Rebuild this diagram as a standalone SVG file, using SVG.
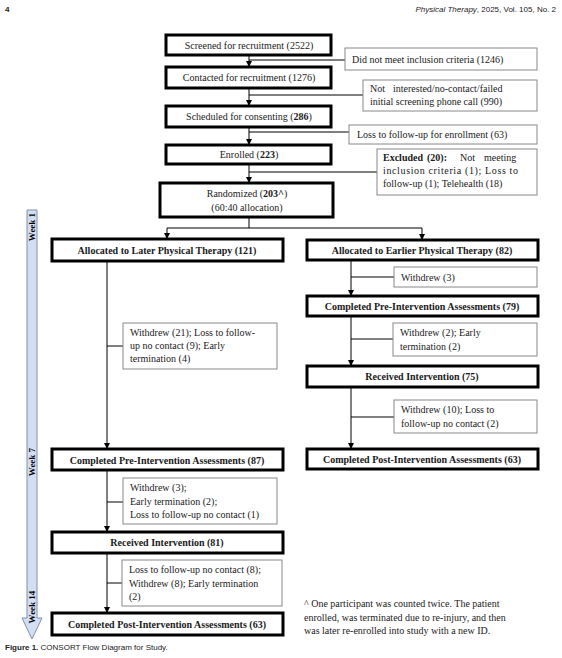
<svg xmlns="http://www.w3.org/2000/svg" width="562" height="658" viewBox="0 0 562 658">
<defs>
<style>
.main{fill:#fff;stroke:#000;stroke-width:3}
.side{fill:#fff;stroke:#888;stroke-width:1}
.t{font-family:"Liberation Serif","Times New Roman",serif;font-size:10px;fill:#1a1a1a}
.c{text-anchor:middle}
.b{font-weight:bold}
.ln{stroke:#000;stroke-width:1;fill:none}
.arr{stroke:#000;stroke-width:1;fill:none;marker-end:url(#ah)}
.wk{font-family:"Liberation Serif","Times New Roman",serif;font-size:9px;font-weight:bold;fill:#000;text-anchor:middle}
.hdr{font-family:"Liberation Sans",Arial,sans-serif;font-size:8px;fill:#222}
</style>
<marker id="ah" viewBox="0 0 6 6" refX="6" refY="3" markerWidth="6" markerHeight="6" orient="auto" markerUnits="userSpaceOnUse">
<path d="M0,0 L6,3 L0,6 z" fill="#000"/>
</marker>
</defs>
<rect width="562" height="658" fill="#fff"/>

<g id="header">
<text class="hdr" x="5" y="12" font-weight="bold">4</text>
<text class="hdr" x="556" y="12" text-anchor="end"><tspan font-style="italic">Physical Therapy</tspan>, 2025, Vol. 105, No. 2</text>
</g>

<g id="weekbar">
<path d="M27,210 H37 V618 H42 L32,639 L22,618 H27 Z" fill="#d3def2" stroke="#8090a8" stroke-width="1"/>
<text class="wk" transform="translate(35,227) rotate(-90)">Week 1</text>
<text class="wk" transform="translate(35,462) rotate(-90)">Week 7</text>
<text class="wk" transform="translate(35,607) rotate(-90)">Week 14</text>
</g>

<g id="connectors">
<path class="arr" d="M249,55 V67"/>
<path class="ln" d="M249,60 H345"/>
<path class="arr" d="M249,88 V106"/>
<path class="ln" d="M249,95 H363"/>
<path class="arr" d="M249,127 V145"/>
<path class="ln" d="M249,132 H349"/>
<path class="arr" d="M249,164 V183"/>
<path class="ln" d="M249,172 H377"/>
<path class="ln" d="M249,217 V228 M167,228 H422"/>
<path class="arr" d="M167,228 V239"/>
<path class="arr" d="M422,228 V240"/>
<path class="arr" d="M107,261 V449"/>
<path class="ln" d="M107,346 H123"/>
<path class="arr" d="M107,470 V532"/>
<path class="ln" d="M107,502 H123"/>
<path class="arr" d="M107,553 V613"/>
<path class="ln" d="M107,583 H122"/>
<path class="arr" d="M351,260 V296"/>
<path class="ln" d="M351,277 H394"/>
<path class="arr" d="M351,316 V366"/>
<path class="ln" d="M351,339 H393"/>
<path class="arr" d="M351,387 V449"/>
<path class="ln" d="M351,417 H394"/>
</g>

<g id="screened"><rect class="main" x="166" y="35" width="165" height="20"/><text class="t c" x="249" y="48.5">Screened for recruitment (2522)</text></g>
<g id="notmeet"><rect class="side" x="345" y="48" width="192" height="22"/><text class="t" x="352" y="62.5">Did not meet inclusion criteria (1246)</text></g>
<g id="contacted"><rect class="main" x="166" y="67" width="165" height="21"/><text class="t c" x="249" y="81">Contacted for recruitment (1276)</text></g>
<g id="notinterested"><rect class="side" x="363" y="80" width="174" height="31"/><text class="t" y="91.5"><tspan x="370">Not</tspan><tspan x="393">interested/no-contact/failed</tspan></text><text class="t" x="370" y="105">initial screening phone call (990)</text></g>
<g id="scheduled"><rect class="main" x="166" y="106" width="165" height="21"/><text class="t c" x="249" y="120">Scheduled for consenting (<tspan class="b">286</tspan>)</text></g>
<g id="lossenroll"><rect class="side" x="349" y="125" width="188" height="19"/><text class="t" x="357" y="138">Loss to follow-up for enrollment (63)</text></g>
<g id="enrolled"><rect class="main" x="166" y="145" width="165" height="19"/><text class="t c" x="249" y="158">Enrolled (<tspan class="b">223</tspan>)</text></g>
<g id="excluded"><rect class="side" x="377" y="149" width="160" height="46"/>
<text class="t" y="161"><tspan x="383" class="b">Excluded</tspan><tspan x="427" class="b">(20):</tspan><tspan x="460">Not</tspan><tspan x="484">meeting</tspan></text>
<text class="t" x="383" y="174" textLength="135" lengthAdjust="spacing">inclusion criteria (1); Loss to</text>
<text class="t" x="383" y="187">follow-up (1); Telehealth (18)</text></g>
<g id="randomized"><rect class="main" x="160" y="183" width="173" height="34"/><text class="t c" x="247" y="197">Randomized (<tspan class="b">203^</tspan>)</text><text class="t c" x="247" y="211">(60:40 allocation)</text></g>

<g id="later"><rect class="main" x="52" y="239" width="231" height="22"/><text class="t c b" x="167" y="254">Allocated to Later Physical Therapy (121)</text></g>
<g id="earlier"><rect class="main" x="307" y="240" width="231" height="20"/><text class="t c b" x="422" y="254">Allocated to Earlier Physical Therapy (82)</text></g>
<g id="withdrew3r"><rect class="side" x="394" y="267" width="143" height="20"/><text class="t" x="401" y="280.5">Withdrew (3)</text></g>
<g id="pre79"><rect class="main" x="307" y="296" width="231" height="20"/><text class="t c b" x="422" y="310">Completed Pre-Intervention Assessments (79)</text></g>
<g id="withdrew2"><rect class="side" x="393" y="323" width="144" height="33"/><text class="t" x="400" y="336">Withdrew (2); Early</text><text class="t" x="400" y="349.5">termination (2)</text></g>
<g id="recv75"><rect class="main" x="307" y="366" width="231" height="21"/><text class="t c b" x="422" y="380">Received Intervention (75)</text></g>
<g id="withdrew10"><rect class="side" x="394" y="400" width="143" height="33"/><text class="t" x="401" y="413">Withdrew (10); Loss to</text><text class="t" x="401" y="426.5">follow-up no contact (2)</text></g>
<g id="post63r"><rect class="main" x="307" y="449" width="231" height="20"/><text class="t c b" x="422" y="463">Completed Post-Intervention Assessments (63)</text></g>

<g id="withdrew21"><rect class="side" x="123" y="323" width="154" height="46"/><text class="t" x="130" y="336">Withdrew (21); Loss to follow-</text><text class="t" x="130" y="349">up no contact (9); Early</text><text class="t" x="130" y="362">termination (4)</text></g>
<g id="pre87"><rect class="main" x="52" y="449" width="231" height="21"/><text class="t c b" x="167" y="463.5">Completed Pre-Intervention Assessments (87)</text></g>
<g id="withdrew3l"><rect class="side" x="123" y="478" width="154" height="46"/><text class="t" x="130" y="491">Withdrew (3);</text><text class="t" x="130" y="504.5">Early termination (2);</text><text class="t" x="130" y="518">Loss to follow-up no contact (1)</text></g>
<g id="recv81"><rect class="main" x="52" y="532" width="231" height="21"/><text class="t c b" x="167" y="546">Received Intervention (81)</text></g>
<g id="loss8"><rect class="side" x="122" y="560" width="160" height="46"/><text class="t" x="129" y="573">Loss to follow-up no contact (8);</text><text class="t" x="129" y="586.5">Withdrew (8); Early termination</text><text class="t" x="129" y="600">(2)</text></g>
<g id="post63l"><rect class="main" x="52" y="613" width="231" height="22"/><text class="t c b" x="167" y="628">Completed Post-Intervention Assessments (63)</text></g>

<g id="footnote">
<text class="t" x="304" y="607">^ One participant was counted twice. The patient</text>
<text class="t" x="304" y="620.5">enrolled, was terminated due to re-injury, and then</text>
<text class="t" x="304" y="634">was later re-enrolled into study with a new ID.</text>
</g>
<g id="caption"><text class="hdr" x="5" y="650" font-size="7.5"><tspan font-weight="bold">Figure 1.</tspan> CONSORT Flow Diagram for Study.</text></g>
</svg>
